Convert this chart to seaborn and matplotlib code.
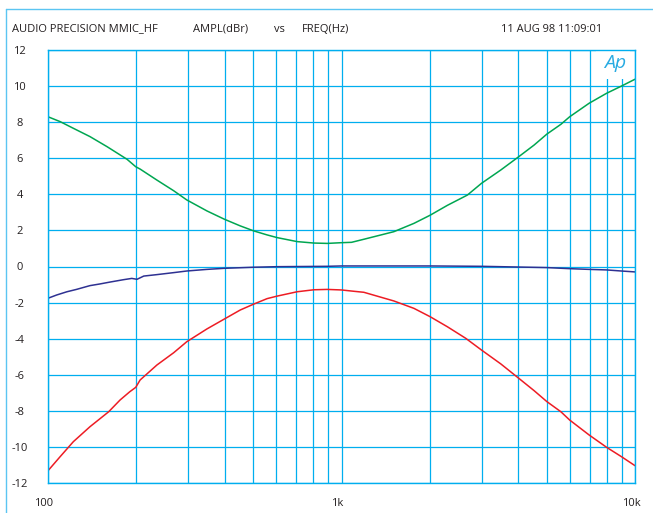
import pandas as pd
import matplotlib
matplotlib.use("Agg")
import matplotlib.pyplot as plt
import seaborn as sns
from matplotlib.ticker import LogLocator, NullFormatter
from matplotlib.transforms import ScaledTranslation
from matplotlib.lines import Line2D
from matplotlib.patches import Rectangle

# ===== DADOS =====
green_freq = [100, 110, 122, 139, 159, 186, 199, 206, 235, 268, 297, 348, 399, 452, 503, 558,
              604, 706, 805, 894, 1000, 1082, 1192, 1508, 1765, 2003, 2295, 2685, 2999, 3490,
              4020, 4530, 5010, 5590, 5990, 6980, 8000, 8990, 10000]
green_db = [8.30, 8.03, 7.66, 7.20, 6.64, 5.94, 5.53, 5.40, 4.79, 4.20, 3.69, 3.08, 2.62, 2.25,
            1.97, 1.75, 1.60, 1.38, 1.30, 1.28, 1.32, 1.34, 1.51, 1.93, 2.39, 2.84, 3.39, 3.96,
            4.61, 5.35, 6.09, 6.73, 7.34, 7.88, 8.30, 9.05, 9.60, 10.00, 10.38]

blue_freq = [100, 107, 116, 125, 139, 150, 163, 181, 193, 201, 212, 235, 268, 297, 348, 399,
             503, 604, 894, 1000, 2003, 2999, 4020, 5010, 5990, 6980, 8000, 8990, 10000]
blue_db = [-1.76, -1.58, -1.40, -1.27, -1.06, -0.97, -0.86, -0.73, -0.66, -0.71, -0.53, -0.45,
           -0.34, -0.25, -0.16, -0.10, -0.04, -0.01, 0.01, 0.03, 0.03, 0.01, -0.03, -0.06,
           -0.12, -0.16, -0.19, -0.25, -0.30]

red_freq = [100, 110, 122, 139, 161, 176, 190, 199, 206, 235, 268, 297, 348, 399, 452, 503,
            558, 604, 706, 805, 894, 1000, 1082, 1192, 1508, 1765, 2003, 2295, 2650, 2999,
            3490, 4020, 4530, 5010, 5590, 5990, 6980, 8000, 8990, 10000]
red_db = [-11.32, -10.54, -9.71, -8.88, -8.05, -7.40, -6.94, -6.70, -6.29, -5.46, -4.78, -4.17,
          -3.46, -2.91, -2.41, -2.08, -1.78, -1.64, -1.40, -1.29, -1.27, -1.30, -1.36, -1.43,
          -1.91, -2.32, -2.78, -3.34, -3.98, -4.63, -5.40, -6.20, -6.88, -7.49, -8.05, -8.51,
          -9.34, -10.02, -10.54, -11.04]

x_ticks = [100, 1000, 10000]
x_tick_labels = ["100", "1k", "10k"]
y_ticks = list(range(-12, 13, 2))

header_left = "AUDIO PRECISION MMIC_HF"
header_y = "AMPL(dBr)"
header_vs = "vs"
header_x = "FREQ(Hz)"
header_date = "11 AUG 98 11:09:01"

GRID = "#00aeef"
colors = {"green": "#00a651", "blue": "#2e3192", "red": "#ed1c24"}

# ===== MONTAGEM =====
df = pd.concat([
    pd.DataFrame({"freq": green_freq, "ampl": green_db, "trace": "green"}),
    pd.DataFrame({"freq": blue_freq, "ampl": blue_db, "trace": "blue"}),
    pd.DataFrame({"freq": red_freq, "ampl": red_db, "trace": "red"}),
])

sns.set_theme(style="white")
plt.rcParams["font.family"] = ["Open Sans", "DejaVu Sans"]

W, H = 653, 513
fig = plt.figure(figsize=(W / 100, H / 100), dpi=100)
ax = fig.add_axes([48 / W, 1 - 483 / H, 587 / W, 433 / H])

sns.lineplot(data=df, x="freq", y="ampl", hue="trace", palette=colors,
             estimator=None, legend=False, linewidth=1.1, ax=ax)

ax.set_xscale("log")
ax.set_xlim(100, 10000)
ax.set_ylim(-12, 12)
ax.set_xticks(x_ticks, x_tick_labels)
ax.xaxis.set_minor_locator(LogLocator(base=10, subs=range(2, 10)))
ax.xaxis.set_minor_formatter(NullFormatter())
ax.set_yticks(y_ticks, [str(v) for v in y_ticks])
ax.set_xlabel("")
ax.set_ylabel("")
ax.grid(True, which="both", axis="x", color=GRID, linewidth=0.9)
ax.grid(True, which="major", axis="y", color=GRID, linewidth=0.9)
ax.tick_params(axis="both", which="both", length=0, labelsize=8, colors="#231f20")
ax.tick_params(axis="x", pad=11)
ax.tick_params(axis="y", pad=20.5)
for lbl in ax.get_yticklabels():
    lbl.set_horizontalalignment("center")
for lbl in ax.get_xticklabels():
    lbl.set_transform(lbl.get_transform() + ScaledTranslation(-4 / 100, 0, fig.dpi_scale_trans))
for sp in ax.spines.values():
    sp.set_color(GRID)
    sp.set_linewidth(1.0)

# logo "Ap" com fundo branco sobre a grade
ax.add_patch(Rectangle((596 / W, 1 - 79 / H), 34 / W, 29 / H, transform=fig.transFigure,
                       facecolor="white", edgecolor="none", zorder=1))
fig.text(615 / W, 1 - 63 / H, "Ap", color="#29abe2", fontsize=14, style="italic",
         fontweight="normal", ha="center", va="center")

# cabeçalho
for xpix, txt in [(12, header_left), (193, header_y), (274, header_vs),
                  (302, header_x), (501, header_date)]:
    fig.text(xpix / W, 1 - 29 / H, txt, fontsize=8, color="#231f20", ha="left", va="center")

# moldura externa
fig.add_artist(Line2D([6 / W, 6 / W], [0, 1 - 9 / H], color="#5bc5f2", linewidth=1.0))
fig.add_artist(Line2D([6 / W, 1], [1 - 9 / H, 1 - 9 / H], color="#5bc5f2", linewidth=1.0))

fig.savefig("out.png", dpi=100)
